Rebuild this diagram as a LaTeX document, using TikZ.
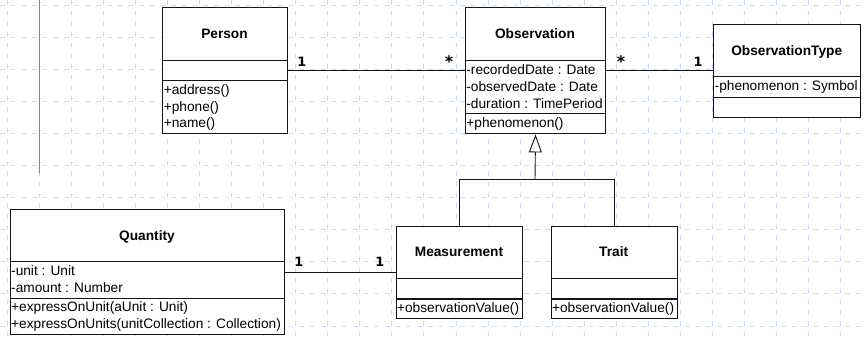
\documentclass[tikz,border=0pt]{standalone}
\usepackage{fontspec}
\setmainfont{Liberation Sans}
\newfontfamily\multfont{DejaVu Sans}
\usetikzlibrary{arrows.meta}
\definecolor{gridblue}{RGB}{205,216,247}
\definecolor{railblue}{RGB}{100,130,230}
\definecolor{ink}{RGB}{20,20,20}

\tikzset{
  classbox/.style={draw=ink, fill=white, line width=1.1bp, rectangle, inner sep=0pt, anchor=north west},
  compsep/.style={draw=ink, line width=1.1bp},
  classtitle/.style={font=\fontsize{13.7bp}{16bp}\selectfont\bfseries, inner sep=0pt, anchor=base},
  member/.style={font=\fontsize{13.7bp}{16bp}\selectfont, inner sep=0pt, anchor=base west},
  mult/.style={font=\multfont\fontsize{12.8bp}{14bp}\selectfont\bfseries, inner sep=0pt},
  multstar/.style={font=\multfont\fontsize{16bp}{18bp}\selectfont\bfseries, inner sep=0pt},
  assoc/.style={draw=ink, line width=0.9bp},
  gridline/.style={draw=gridblue, line width=1bp, dash pattern=on 4.5bp off 6.2bp},
}

\begin{document}
\begin{tikzpicture}[x=1bp, y=-1bp]
  \fill[white] (0,0) rectangle (866,342);
  \useasboundingbox (0,0) rectangle (866,342);

  % background grid
  \foreach \i in {0,...,27}
    \draw[gridline] ({7.3+32.05*\i},0) -- ({7.3+32.05*\i},342);
  \foreach \j in {0,...,10}
    \draw[gridline] (0,{5+32.1*\j}) -- (866,{5+32.1*\j});

  % vertical rail
  \coordinate (railtop) at (39.3,0);
  \coordinate (railbot) at (39.3,173);
  \draw[railblue, line width=1.2bp] (railtop) -- (railbot);

  % ---------- Person ----------
  \node[classbox, minimum width=124.4bp, minimum height=126bp] (person) at (162.3,7.3) {};
  \draw[compsep] (person.west |- 0,60.7) -- (person.east |- 0,60.7);
  \draw[compsep] (person.west |- 0,80.7) -- (person.east |- 0,80.7);
  \node[classtitle] (persontitle) at (224.5,38.3) {Person};
  \node[member] (personm1) at (163.6,94.3) {+address()};
  \node[member] (personm2) at (163.6,111.0) {+phone()};
  \node[member] (personm3) at (163.6,127.7) {+name()};

  % ---------- Observation ----------
  \node[classbox, minimum width=140bp, minimum height=126bp] (obs) at (465,7.3) {};
  \draw[compsep] (obs.west |- 0,60.7) -- (obs.east |- 0,60.7);
  \draw[compsep] (obs.west |- 0,113.3) -- (obs.east |- 0,113.3);
  \node[classtitle] (obstitle) at (535,38.3) {Observation};
  \node[member] (obsa1) at (466.2,74.6) {-recordedDate : Date};
  \node[member] (obsa2) at (466.2,91.3) {-observedDate : Date};
  \node[member] (obsa3) at (466.2,108.0) {-duration : TimePeriod};
  \node[member] (obsm1) at (466.2,127.4) {+phenomenon()};

  % ---------- ObservationType ----------
  \node[classbox, minimum width=146.7bp, minimum height=92.7bp] (otype) at (713.3,24) {};
  \draw[compsep] (otype.west |- 0,76.7) -- (otype.east |- 0,76.7);
  \draw[compsep] (otype.west |- 0,97.3) -- (otype.east |- 0,97.3);
  \node[classtitle] (otypetitle) at (786.7,55.1) {ObservationType};
  \node[member] (otypea1) at (714.5,90.6) {-phenomenon : Symbol};

  % ---------- Quantity ----------
  \node[classbox, minimum width=274bp, minimum height=125.3bp] (qty) at (10,209) {};
  \draw[compsep] (qty.west |- 0,261.7) -- (qty.east |- 0,261.7);
  \draw[compsep] (qty.west |- 0,298.3) -- (qty.east |- 0,298.3);
  \node[classtitle] (qtytitle) at (147,240) {Quantity};
  \node[member] (qtya1) at (11,275.7) {-unit : Unit};
  \node[member] (qtya2) at (11,292.3) {-amount : Number};
  \node[member] (qtym1) at (11,311.9) {+expressOnUnit(aUnit : Unit)};
  \node[member] (qtym2) at (11,328.6) {+expressOnUnits(unitCollection : Collection)};

  % ---------- Measurement ----------
  \node[classbox, minimum width=126.6bp, minimum height=92.3bp] (meas) at (395.7,226) {};
  \draw[compsep] (meas.west |- 0,278.3) -- (meas.east |- 0,278.3);
  \draw[compsep] (meas.west |- 0,299) -- (meas.east |- 0,299);
  \node[classtitle] (meastitle) at (459,256.6) {Measurement};
  \node[member] (measm1) at (396.9,312.9) {+observationValue()};

  % ---------- Trait ----------
  \node[classbox, minimum width=126bp, minimum height=92.3bp] (trait) at (550.7,226) {};
  \draw[compsep] (trait.west |- 0,278.3) -- (trait.east |- 0,278.3);
  \draw[compsep] (trait.west |- 0,299) -- (trait.east |- 0,299);
  \node[classtitle] (traittitle) at (613.7,256.6) {Trait};
  \node[member] (traitm1) at (551.9,312.9) {+observationValue()};

  % ---------- associations ----------
  \draw[assoc] (person.east |- 0,70.5) -- (obs.west |- 0,70.5);
  \node[mult, anchor=base] (m1) at (301.7,66.3) {1};
  \node[multstar] (m2) at (449,61.9) {*};

  \draw[assoc] (obs.east |- 0,70.5) -- (otype.west |- 0,70.5);
  \node[multstar] (m3) at (621,61.9) {*};
  \node[mult, anchor=base] (m4) at (698,66.5) {1};

  \draw[assoc] (qty.east |- 0,272.3) -- (meas.west |- 0,272.3);
  \node[mult, anchor=base] (m5) at (298.7,266) {1};
  \node[mult, anchor=base] (m6) at (379.7,266) {1};

  % ---------- generalization ----------
  \coordinate (genbar) at (535,179.3);
  \draw[assoc] (meas.north) |- (genbar) -| (trait.north);
  \draw[assoc, -{Triangle[open, length=18bp, width=13bp, fill=white]}] (genbar) -- (obs.south);
\end{tikzpicture}
\end{document}
